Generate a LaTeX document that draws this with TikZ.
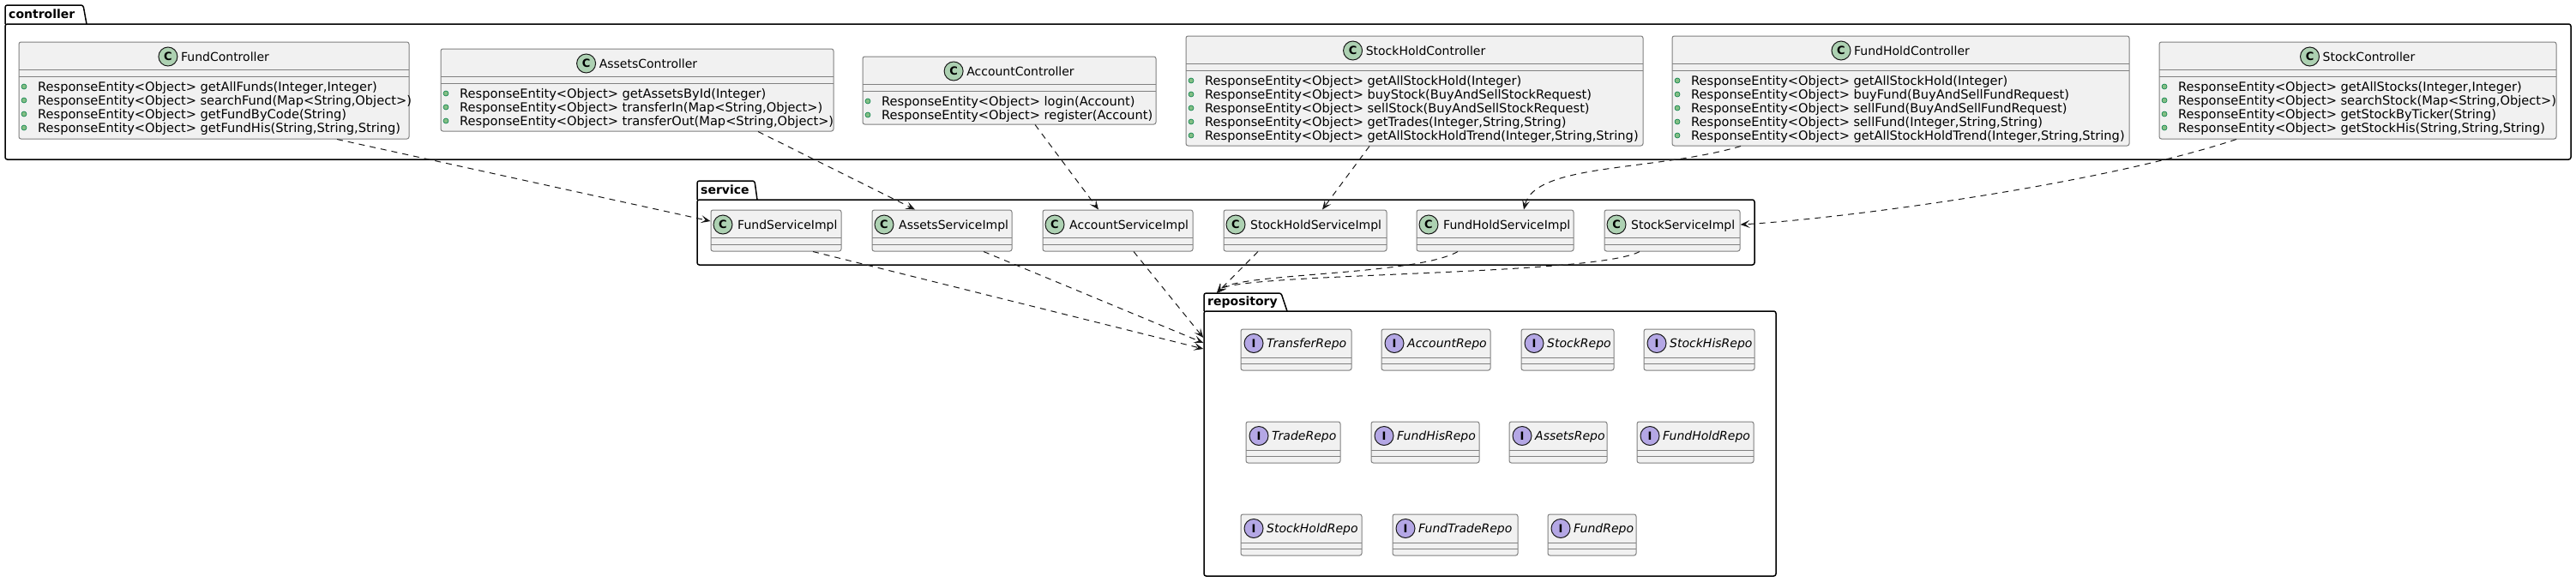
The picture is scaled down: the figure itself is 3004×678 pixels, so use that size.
\documentclass[tikz,border=0pt]{standalone}
\usepackage{fontspec}
\setmainfont{DejaVu Sans}
\usetikzlibrary{arrows.meta,calc,fit}
\definecolor{boxfill}{HTML}{F1F1F1}
\definecolor{boxline}{HTML}{181818}
\definecolor{cgreen}{HTML}{ADD1B2}
\definecolor{ipurple}{HTML}{B4A7E5}
\definecolor{pubfill}{HTML}{84BE84}
\definecolor{publine}{HTML}{038048}
\tikzset{
 cls/.style={draw=boxline!55, fill=boxfill, rounded corners=2.5pt, line width=1pt, inner sep=0pt},
 sepline/.style={draw=boxline!55, line width=1pt},
 pkgbox/.style={draw=black, line width=1.5pt, rounded corners=2.5pt, inner sep=0pt},
 pkgtab/.style={draw=black, line width=1.5pt, rounded corners=2.5pt},
 pkglabel/.style={font=\bfseries\fontsize{14}{16}\selectfont, inner sep=0pt, anchor=base west},
 ttext/.style={font=\fontsize{14}{16}\selectfont, inner sep=0pt, anchor=base west},
 itext/.style={font=\itshape\fontsize{14}{16}\selectfont, inner sep=0pt, anchor=base west},
 mtext/.style={font=\fontsize{14.6}{16}\selectfont, inner sep=0pt, anchor=base west},
 badge/.style={circle, draw=boxline, line width=1pt, minimum size=22pt, inner sep=0pt, font=\bfseries\fontsize{13}{13}\selectfont},
 cbadge/.style={badge, fill=cgreen},
 ibadge/.style={badge, fill=ipurple},
 pubdot/.style={fill=pubfill, draw=publine, line width=0.6pt},
 dep/.style={draw=boxline, line width=1pt, dash pattern=on 7pt off 6pt, -{Stealth[length=11pt,width=9pt,inset=5pt]}},
}
% controller class: id, left, right, top, bottom, name
\newcommand\ctlclass[6]{%
  \node[cls, fit={(#2,#4) (#3,#5)}] (#1) {};
  \draw[sepline] (#2,#4+32) -- (#3,#4+32);
  \draw[sepline] (#2,#4+40) -- (#3,#4+40);
  \node[ttext, anchor=base] (#1-t) at (#2/2+#3/2+13, #4+22.5) {#6};
  \node[cbadge] (#1-c) at ([xshift=-15pt,yshift=5.5pt]#1-t.base west) {C};
}
% members: id, left, top, list
\newcommand\ctlmembers[4]{%
  \foreach \m [count=\i] in {#4} {
    \path[pubdot] (#2+6, #3+52+16*\i-16) circle (3pt);
    \node[mtext] (#1-m\i) at (#2+22, #3+57+16*\i-16) {\m};
  }
}
% service class: id, left, right, name
\newcommand\svcclass[4]{%
  \node[cls, fit={(#2,245) (#3,293)}] (#1) {};
  \draw[sepline] (#2,277) -- (#3,277);
  \draw[sepline] (#2,285) -- (#3,285);
  \node[cbadge] (#1-c) at (#2+14,262) {C};
  \node[ttext] (#1-t) at (#2+31,267.5) {#4};
}
% interface: id, left, right, top, name
\newcommand\ifaceclass[5]{%
  \node[cls, fit={(#2,#4) (#3,#4+48)}] (#1) {};
  \draw[sepline] (#2,#4+33) -- (#3,#4+33);
  \draw[sepline] (#2,#4+40) -- (#3,#4+40);
  \node[ibadge] (#1-c) at (#2+15,#4+16.5) {I};
  \node[itext] (#1-t) at (#2+30,#4+21.5) {#5};
}
\begin{document}
\begin{tikzpicture}[x=1pt,y=-1pt]
\fill[white] (0,0) rectangle (3004,678);
\useasboundingbox (0,0) rectangle (3004,678);

% ---------------- packages
\node[pkgbox, fit={(6,28) (2998,186)}] (pctrl) {};
\draw[pkgtab] (6,28) -- (6,6) -- (97,6) -- (101,28);
\node[pkglabel] (pctrl-l) at (10,21) {controller};

\node[pkgbox, fit={(813,233) (2046,309)}] (psvc) {};
\draw[pkgtab] (813,233) -- (813,211) -- (880,211) -- (883,233);
\node[pkglabel] (psvc-l) at (817,226) {service};

\node[pkgbox, fit={(1404,363) (2071,672)}] (prepo) {};
\draw[pkgtab] (1404,363) -- (1404,342) -- (1494,342) -- (1501,363);
\node[pkglabel] (prepo-l) at (1408,356) {repository};
\coordinate (prepo-tab) at (1419,342);

% ---------------- controllers
\ctlclass{fc}{22}{477}{49}{162}{FundController}
\ctlmembers{fc}{22}{49}{{ResponseEntity<Object> getAllFunds(Integer,Integer)},{ResponseEntity<Object> searchFund(Map<String,Object>)},{ResponseEntity<Object> getFundByCode(String)},{ResponseEntity<Object> getFundHis(String,String,String)}}

\ctlclass{ac}{514}{972}{57}{153}{AssetsController}
\ctlmembers{ac}{514}{57}{{ResponseEntity<Object> getAssetsById(Integer)},{ResponseEntity<Object> transferIn(Map<String,Object>)},{ResponseEntity<Object> transferOut(Map<String,Object>)}}

\ctlclass{acc}{1006}{1348}{66}{145}{AccountController}
\ctlmembers{acc}{1006}{66}{{ResponseEntity<Object> login(Account)},{ResponseEntity<Object> register(Account)}}

\ctlclass{shc}{1383}{1916}{42}{170}{StockHoldController}
\ctlmembers{shc}{1383}{42}{{ResponseEntity<Object> getAllStockHold(Integer)},{ResponseEntity<Object> buyStock(BuyAndSellStockRequest)},{ResponseEntity<Object> sellStock(BuyAndSellStockRequest)},{ResponseEntity<Object> getTrades(Integer,String,String)},{ResponseEntity<Object> getAllStockHoldTrend(Integer,String,String)}}

\ctlclass{fhc}{1950}{2483}{42}{170}{FundHoldController}
\ctlmembers{fhc}{1950}{42}{{ResponseEntity<Object> getAllStockHold(Integer)},{ResponseEntity<Object> buyFund(BuyAndSellFundRequest)},{ResponseEntity<Object> sellFund(BuyAndSellFundRequest)},{ResponseEntity<Object> sellFund(Integer,String,String)},{ResponseEntity<Object> getAllStockHoldTrend(Integer,String,String)}}

\ctlclass{sc}{2518}{2981}{49}{162}{StockController}
\ctlmembers{sc}{2518}{49}{{ResponseEntity<Object> getAllStocks(Integer,Integer)},{ResponseEntity<Object> searchStock(Map<String,Object>)},{ResponseEntity<Object> getStockByTicker(String)},{ResponseEntity<Object> getStockHis(String,String,String)}}

% ---------------- services
\svcclass{fsi}{829}{981}{FundServiceImpl}
\svcclass{asi}{1017}{1180}{AssetsServiceImpl}
\svcclass{accsi}{1216}{1391}{AccountServiceImpl}
\svcclass{shsi}{1427}{1617}{StockHoldServiceImpl}
\svcclass{fhsi}{1652}{1835}{FundHoldServiceImpl}
\svcclass{ssi}{1871}{2029}{StockServiceImpl}

% ---------------- repositories
\ifaceclass{r1}{1447}{1576}{384}{TransferRepo}
\ifaceclass{r2}{1611}{1738}{384}{AccountRepo}
\ifaceclass{r3}{1774}{1882}{384}{StockRepo}
\ifaceclass{r4}{1917}{2046}{384}{StockHisRepo}
\ifaceclass{r5}{1453}{1563}{492}{TradeRepo}
\ifaceclass{r6}{1599}{1725}{492}{FundHisRepo}
\ifaceclass{r7}{1760}{1874}{492}{AssetsRepo}
\ifaceclass{r8}{1909}{2045}{492}{FundHoldRepo}
\ifaceclass{r9}{1447}{1588}{600}{StockHoldRepo}
\ifaceclass{r10}{1624}{1770}{600}{FundTradeRepo}
\ifaceclass{r11}{1805}{1908}{600}{FundRepo}

% ---------------- dependencies
\draw[dep] ([xshift=143.5pt]fc.south) -- ([yshift=11pt]fsi.west);
\draw[dep] ([xshift=141pt]ac.south) -- ([xshift=-31.5pt]asi.north);
\draw[dep] ([xshift=30pt]acc.south) -- ([xshift=-22.5pt]accsi.north);
\draw[dep] ([xshift=-52.5pt]shc.south) -- ([xshift=20pt]shsi.north);
\draw[dep] ([xshift=-186.5pt]fhc.south) .. controls (1930,200) and (1790,190) .. ([xshift=33.5pt]fhsi.north);
\draw[dep] ([xshift=-141.5pt]sc.south) .. controls (2450,215) and (2150,255) .. ([yshift=7pt]ssi.east);

\draw[dep] ([xshift=43pt]fsi.south) -- ([yshift=110.5pt]prepo.west);
\draw[dep] ([xshift=48.5pt]asi.south) -- ([yshift=117.5pt]prepo.west);
\draw[dep] ([xshift=18.5pt]accsi.south) -- ([yshift=123.5pt]prepo.west);
\draw[dep] ([xshift=-55pt]shsi.south) -- (prepo-tab);
\draw[dep] ([xshift=-43.5pt]fhsi.south) .. controls (1650,322) and (1440,318) .. (prepo-tab);
\draw[dep] ([xshift=-38pt]ssi.south) .. controls (1860,322) and (1440,318) .. (prepo-tab);
\end{tikzpicture}
\end{document}
